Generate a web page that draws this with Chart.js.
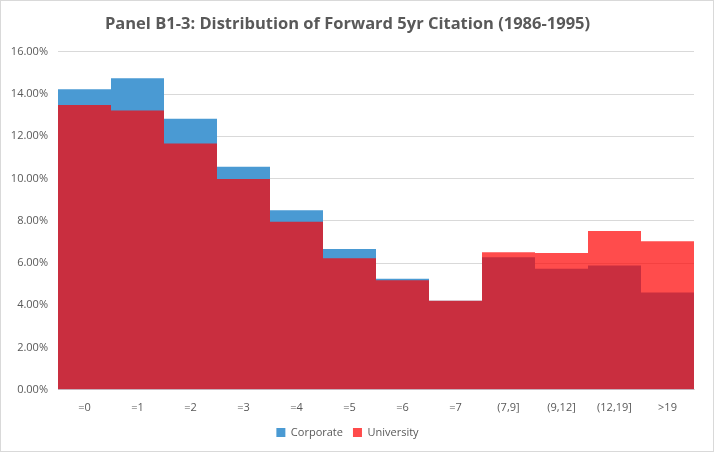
<!DOCTYPE html>
<html>
<head>
<meta charset="utf-8">
<script src="https://cdn.jsdelivr.net/npm/chart.js@4"></script>
<style>
  body { margin: 0; background: #fff; }
  #wrap { width: 714px; height: 452px; box-sizing: border-box; border: 1px solid #d9d9d9; }
</style>
</head>
<body>
<div id="wrap"><canvas id="myChart"></canvas></div>
<script>
const categorias = ["=0", "=1", "=2", "=3", "=4", "=5", "=6", "=7", "(7,9]", "(9,12]", "(12,19]", ">19"];
const corporate = [14.23, 14.75, 12.83, 10.56, 8.50, 6.66, 5.26, 4.22, 6.28, 5.73, 5.88, 4.61];
const university = [13.48, 13.22, 11.66, 9.98, 7.95, 6.23, 5.19, 4.22, 6.51, 6.47, 7.52, 7.03];
const yTicks = { min: 0, max: 16, step: 2 };

const gris = "#595959";
const fuente = "'Open Sans', sans-serif";

const data = {
    labels: categorias,
    datasets: [
        {
            label: "Corporate",
            data: corporate,
            backgroundColor: "#4a9ad3",
            borderWidth: 0,
            inflateAmount: 0,
            order: 1
        },
        {
            label: "University",
            data: university,
            backgroundColor: "rgba(255,0,0,0.7)",
            borderWidth: 0,
            inflateAmount: 0,
            order: 0
        }
    ]
};

const config = {
    type: "bar",
    data,
    options: {
        responsive: true,
        maintainAspectRatio: false,
        animation: false,
        grouped: false,
        barPercentage: 1,
        categoryPercentage: 1,
        // area de 636px = 12 x 53, bordes de barra en pixel entero
        layout: { padding: { left: 0, right: 19, top: 13, bottom: 3 } },
        plugins: {
            title: {
                display: true,
                text: "Panel B1-3: Distribution of Forward 5yr Citation (1986-1995)",
                color: gris,
                font: { family: fuente, size: 16.5, weight: "bold" },
                padding: { top: 0, bottom: 18 }
            },
            legend: {
                position: "bottom",
                labels: {
                    color: gris,
                    font: { family: fuente, size: 11 },
                    boxWidth: 9,
                    boxHeight: 9,
                    padding: 10,
                    generateLabels: (chart) => chart.data.datasets.map((ds, i) => ({
                        text: ds.label,
                        fillStyle: i === 0 ? "#4a9ad3" : "#ff4b4b",
                        strokeStyle: "transparent",
                        lineWidth: 0,
                        fontColor: gris,
                        datasetIndex: i
                    }))
                }
            },
            tooltip: { enabled: false }
        },
        scales: {
            x: {
                grid: { display: false },
                border: { color: "#d9d9d9" },
                ticks: { color: gris, font: { family: fuente, size: 11 }, padding: 3, maxRotation: 0 }
            },
            y: {
                min: yTicks.min,
                max: yTicks.max,
                grid: { color: "#d9d9d9", drawTicks: false },
                border: { display: false },
                afterFit: (axis) => { axis.width = 57; },
                ticks: {
                    stepSize: yTicks.step,
                    color: gris,
                    font: { family: fuente, size: 11 },
                    padding: 10,
                    callback: (v) => v.toFixed(2) + "%"
                }
            }
        }
    }
};

new Chart(document.getElementById("myChart"), config);
</script>
</body>
</html>
